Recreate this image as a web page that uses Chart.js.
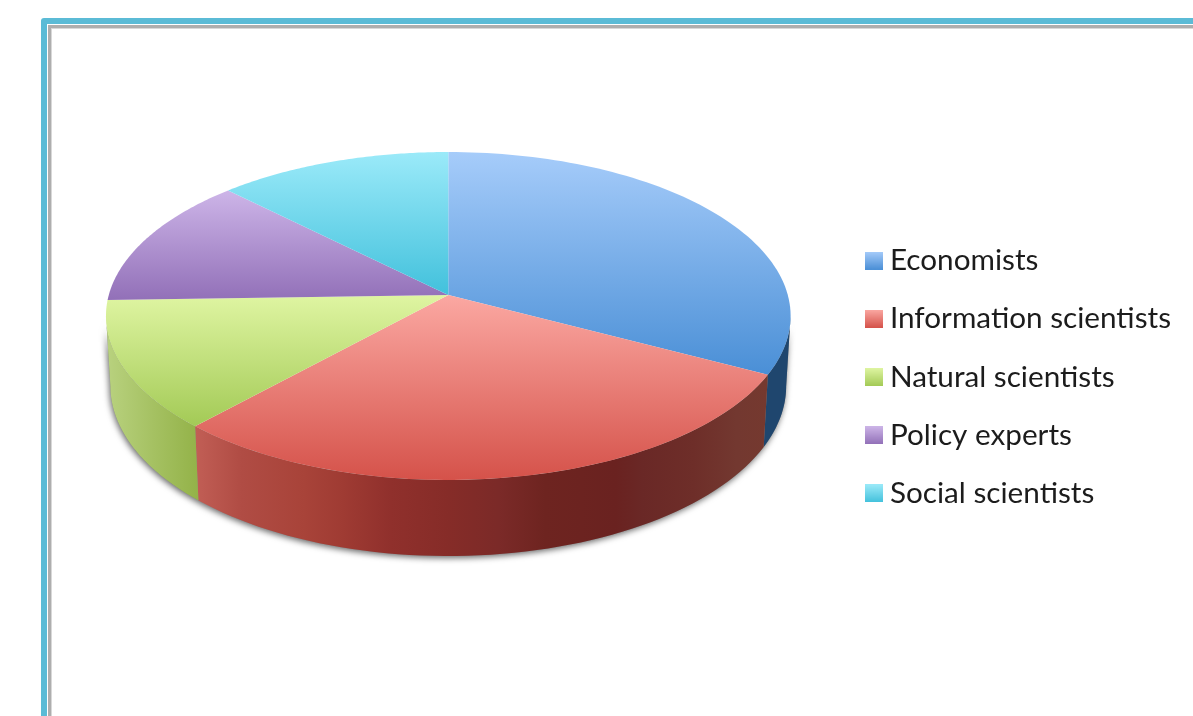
<!DOCTYPE html>
<html>
<head>
<meta charset="utf-8">
<title>Disciplines</title>
<script src="https://cdn.jsdelivr.net/npm/chart.js@4/dist/chart.umd.min.js"></script>
<style>
    html, body { margin: 0; padding: 0; width: 1193px; height: 716px; overflow: hidden; background: #fff; }
    /* blue frame with the grey inner line, runs off the right and bottom */
    #frame {
        position: absolute; left: 41px; top: 18px; width: 1400px; height: 1000px;
        border: 6px solid #5bbbd6; border-radius: 3px; box-sizing: border-box;
        box-shadow: inset 1px 1px 0 #fff, inset 4px 4px 0 #aeaeae, inset 5px 5px 0 #d8d8d8;
    }
    #pie { position: absolute; left: 0; top: 0; }
</style>
</head>
<body>
<div id="frame"></div>
<canvas id="pie" width="1193" height="716"></canvas>

<script>
// pie data, percent of the whole
var categories = ['Economists', 'Information scientists', 'Natural scientists', 'Policy experts', 'Social scientists'];
var shares = [32.7, 29.1, 12.7, 13.0, 12.5];

// top face colours, light end and dark end of each slice
var lightColors = ['#a6ccfa', '#fba8a2', '#dff5a2', '#cdb5e8', '#9beaf9'];
var darkColors = ['#4a8fd6', '#d5524a', '#a3ca56', '#9270b8', '#42c1dc'];

// red rim colours from left to right, by x position 0..1
var redWallStops = [
    [0, '#c15e55'], [0.08, '#b04c44'], [0.19, '#a84339'], [0.257, '#9f3b33'],
    [0.34, '#90302c'], [0.44, '#862c28'], [0.53, '#7b2a28'], [0.61, '#6e2420'], [0.735, '#6a2220'],
    [0.78, '#6a2826'], [0.87, '#6e2e29'], [0.945, '#733830'], [1, '#75392f']
];
var greenWallStops = [[0, '#b8d17e'], [0.5, '#a5c162'], [1, '#93b248']];

// tilt of the disc on screen
var apexY = 295;
var tilt = -0.128;
var squash = 161.3;
var wallFrom = 97.4 * Math.PI / 180;
var wallTo = 262.6 * Math.PI / 180;

function rimPoint(arc, a) {
    // a is the chart angle, -PI/2 is 12 o'clock
    var u = Math.cos(a), v = Math.sin(a);
    var w = 1 / (1 + tilt * v);
    return { x: arc.x + arc.outerRadius * u * w, y: apexY + squash * v * w };
}

function lowerPoint(arc, p) {
    // matching point on the bottom rim, a bit narrower
    return { x: arc.x + (p.x - arc.x) * 0.987, y: p.y + 70 + (p.y - 316) * 0.037 };
}

function vGradient(ctx, y0, y1, c0, c1) {
    var g = ctx.createLinearGradient(0, y0, 0, y1);
    g.addColorStop(0, c0);
    g.addColorStop(1, c1);
    return g;
}

function hGradient(ctx, x0, x1, stops) {
    var g = ctx.createLinearGradient(x0, 0, x1, 0);
    stops.forEach(function (s) { g.addColorStop(s[0], s[1]); });
    return g;
}

function wallPath(ctx, arc, from, to) {
    var steps = 60, i, p;
    ctx.beginPath();
    for (i = 0; i <= steps; i++) {
        p = rimPoint(arc, from + (to - from) * i / steps);
        if (i == 0) ctx.moveTo(p.x, p.y); else ctx.lineTo(p.x, p.y);
    }
    for (i = steps; i >= 0; i--) {
        p = lowerPoint(arc, rimPoint(arc, from + (to - from) * i / steps));
        ctx.lineTo(p.x, p.y);
    }
    ctx.closePath();
}

function wallFill(ctx, index) {
    if (index == 0) return '#1f466e';
    if (index == 1) return hGradient(ctx, 196, 768, redWallStops);
    return hGradient(ctx, 108, 199, greenWallStops);
}

// swaps the flat arcs for a tilted disc with a rim, angles come from the arc elements
var tiltedPie = {
    id: 'tiltedPie',
    beforeDatasetDraw: function (chart) {
        var ctx = chart.ctx;
        var arcs = chart.getDatasetMeta(0).data;
        var first = arcs[0];
        var lo = wallFrom - Math.PI / 2, hi = wallTo - Math.PI / 2;

        ctx.save();

        // soft shadow under the rim
        ctx.save();
        ctx.shadowColor = 'rgba(0,0,0,0.6)';
        ctx.shadowBlur = 6;
        ctx.shadowOffsetX = -1;
        ctx.shadowOffsetY = 2;
        ctx.fillStyle = '#888';
        wallPath(ctx, first, lo, hi);
        ctx.fill();
        ctx.restore();

        // rim segments on the near side
        arcs.forEach(function (arc, i) {
            var from = Math.max(arc.startAngle, lo);
            var to = Math.min(arc.endAngle, hi);
            if (to <= from) return;
            ctx.fillStyle = wallFill(ctx, i);
            wallPath(ctx, first, from, to);
            ctx.fill();
        });

        // top face
        arcs.forEach(function (arc, i) {
            var steps = 80, pts = [], s;
            for (s = 0; s <= steps; s++) {
                pts.push(rimPoint(first, arc.startAngle + (arc.endAngle - arc.startAngle) * s / steps));
            }
            var ys = pts.map(function (q) { return q.y; }).concat([apexY]);
            ctx.fillStyle = vGradient(ctx, Math.min.apply(null, ys), Math.max.apply(null, ys), lightColors[i], darkColors[i]);
            ctx.beginPath();
            ctx.moveTo(first.x, apexY);
            for (s = 0; s <= steps; s++) ctx.lineTo(pts[s].x, pts[s].y);
            ctx.closePath();
            ctx.fill();
        });

        ctx.restore();
        return false;
    }
};

// 18px legend swatch with the same shading as the slices
function swatch(i) {
    var c = document.createElement('canvas');
    c.width = 18;
    c.height = 18;
    var g = c.getContext('2d');
    g.fillStyle = vGradient(g, 0, 18, lightColors[i], darkColors[i]);
    g.fillRect(0, 0, 18, 18);
    return c;
}

new Chart(document.getElementById('pie').getContext('2d'), {
    type: 'pie',
    plugins: [tiltedPie],
    data: {
        labels: categories,
        datasets: [{
            data: shares,
            backgroundColor: darkColors,
            borderWidth: 0
        }]
    },
    options: {
        responsive: false,
        animation: false,
        layout: { padding: { left: 52, top: 37, right: 12, bottom: -1 } },
        plugins: {
            tooltip: { enabled: false },
            legend: {
                position: 'right',
                labels: {
                    usePointStyle: true,
                    boxWidth: 2,
                    boxHeight: 11,
                    padding: 28.5,
                    color: '#1c1c1c',
                    font: { family: 'Lato', size: 29.7 },
                    generateLabels: function () {
                        return categories.map(function (name, i) {
                            return { text: name, pointStyle: swatch(i), fontColor: '#1c1c1c', lineWidth: 0, index: i };
                        });
                    }
                }
            }
        }
    }
});
</script>
</body>
</html>
